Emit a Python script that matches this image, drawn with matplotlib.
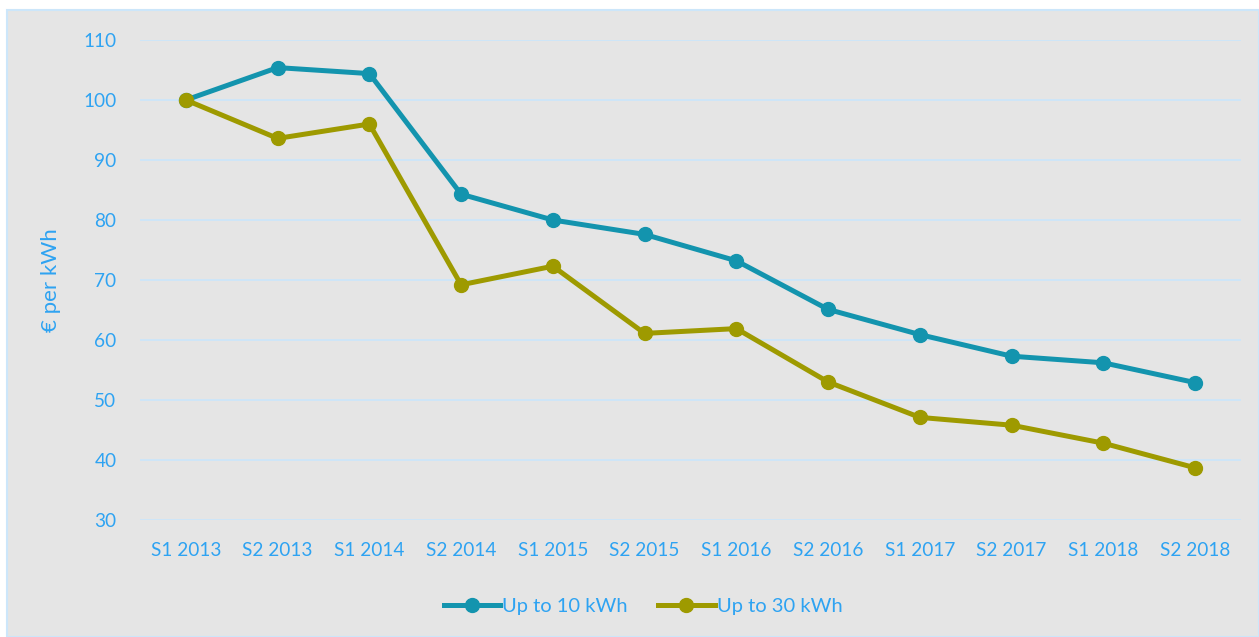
import matplotlib.pyplot as plt
from matplotlib.patches import Rectangle

# ── data ──────────────────────────────────────────
periods = ["S1 2013", "S2 2013", "S1 2014", "S2 2014", "S1 2015", "S2 2015",
           "S1 2016", "S2 2016", "S1 2017", "S2 2017", "S1 2018", "S2 2018"]
up_to_10 = [100, 105.4, 104.4, 84.3, 80.0, 77.6, 73.2, 65.1, 60.9, 57.3, 56.2, 52.9]
up_to_30 = [100, 93.6, 96.0, 69.2, 72.3, 61.1, 61.9, 53.0, 47.1, 45.8, 42.8, 38.7]

TXT = "#2ea3f2"
C10 = "#1394ae"
C30 = "#9e9a00"
GRID = "#cce6fa"
BG = "#e5e5e5"
FS = 13.7

plt.rcParams['font.family'] = ['Lato', 'DejaVu Sans']

W, H = 1259, 637
fig = plt.figure(figsize=(W / 100, H / 100), dpi=100)
fig.patch.set_facecolor("white")
fig.patches.append(Rectangle((7 / W, 0), 1 - 7 / W, 1 - 10 / H, transform=fig.transFigure,
                             facecolor=BG, edgecolor=GRID, linewidth=1.5, zorder=-5))

ax = fig.add_axes([140 / W, (H - 520) / H, (1241 - 140) / W, 480 / H])
ax.set_zorder(1)
ax.set_facecolor("none")
x = range(len(periods))
ax.plot(x, up_to_10, color=C10, lw=3.6, marker='o', ms=10, label="Up to 10 kWh", zorder=3)
ax.plot(x, up_to_30, color=C30, lw=3.6, marker='o', ms=10, label="Up to 30 kWh", zorder=3)

ax.set_xlim(-0.5, len(periods) - 0.5)
ax.set_ylim(30, 110)
ax.set_yticks(range(30, 111, 10))
ax.set_xticks(list(x))
ax.set_xticklabels(periods)
ax.grid(axis='y', color=GRID, lw=1.3, zorder=0)
ax.set_axisbelow(True)
for s in ax.spines.values():
    s.set_visible(False)
ax.tick_params(length=0, colors=TXT, labelsize=FS)
ax.tick_params(axis='y', pad=17)
ax.tick_params(axis='x', pad=16)
ax.set_ylabel("€ per kWh", color=TXT, fontsize=16, labelpad=16)

ax.legend(loc='upper center', bbox_to_anchor=(0.457, -0.125), ncol=2, frameon=False,
          fontsize=14.5, labelcolor=TXT, handlelength=2.8, handletextpad=0.1,
          columnspacing=1.5)

fig.savefig("out.png", dpi=100)
